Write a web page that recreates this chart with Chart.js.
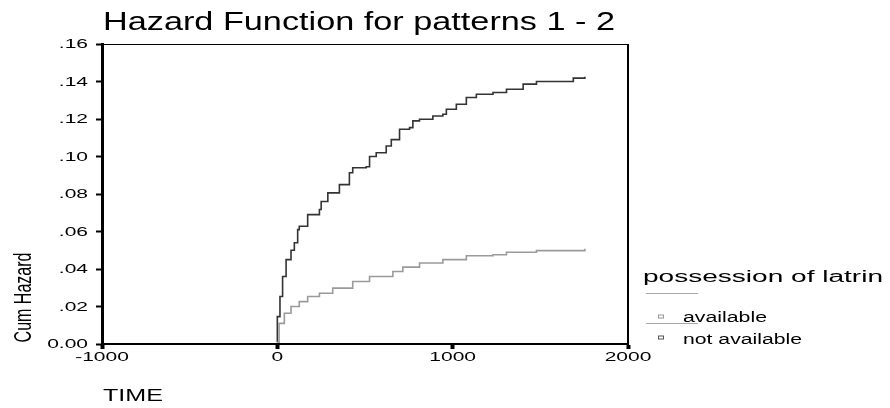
<html>
<head>
  <meta charset="UTF-8">
  <script src="https://cdn.jsdelivr.net/npm/chart.js@4/dist/chart.umd.min.js"></script>
  <style> body {padding: 0; margin: 0; background: #fff;} </style>
</head>
<body>

<canvas id="myChart" width="890" height="408"></canvas>

<script>

// cumulative hazard (step function)
var notAvailTime = [0, 0, 15, 30, 50, 78, 97, 116, 125, 173, 240, 250, 288, 354, 411, 430, 507, 526, 564, 621, 650, 697, 754, 773, 811, 887, 944, 964, 1021, 1078, 1135, 1230, 1307, 1402, 1478, 1688, 1754];
var notAvailHaz  = [0.001, 0.0146, 0.0253, 0.036, 0.045, 0.050, 0.054, 0.061, 0.0628, 0.069, 0.0717, 0.076, 0.0806, 0.085, 0.0913, 0.094, 0.0945, 0.100, 0.102, 0.1056, 0.109, 0.1145, 0.1154, 0.119, 0.1199, 0.1216, 0.1225, 0.1252, 0.1279, 0.1315, 0.1332, 0.1341, 0.1359, 0.1386, 0.140, 0.1418, 0.1425];

var availTime = [0, 10, 40, 78, 125, 173, 240, 316, 430, 526, 659, 716, 811, 944, 1078, 1230, 1307, 1478, 1754];
var availHaz  = [0.001, 0.011, 0.0164, 0.020, 0.0226, 0.0253, 0.0271, 0.0298, 0.0333, 0.036, 0.0387, 0.041, 0.0432, 0.045, 0.0471, 0.0476, 0.0489, 0.0498, 0.0508];

var xTicks = [-1000, 0, 1000, 2000];
var yTicks = [0, 0.02, 0.04, 0.06, 0.08, 0.10, 0.12, 0.14, 0.16];
var seriesNames = ['available', 'not available'];
var titleText = 'Hazard Function for patterns 1 - 2';
var legendTitle = 'possession of latrin';

function toPoints(xs, ys) {
  return xs.map(function (x, i) { return {x: x, y: ys[i]}; });
}

function yLabel(v) {
  if (Math.abs(v) < 1e-9) return '0.00';
  return v.toFixed(2).replace(/^0/, '');
}

// the original output is stretched sideways, so text is drawn wide
function wideText(ctx, text, x, y, size, sx, align) {
  ctx.font = size + 'px Arial';
  ctx.save();
  ctx.translate(x, y);
  ctx.scale(sx, 1);
  ctx.textAlign = align;
  ctx.textBaseline = 'alphabetic';
  ctx.fillText(text, 0, 0);
  ctx.restore();
}

function fitText(ctx, text, x, y, size, width) {
  ctx.font = size + 'px Arial';
  var w = ctx.measureText(text).width;
  wideText(ctx, text, x, y, size, width / w, 'left');
}

var textPlugin = {
  id: 'texts',
  afterDraw: function (chart) {
    var ctx = chart.ctx;
    var a = chart.chartArea;
    var xs = chart.scales.x, ys = chart.scales.y;
    ctx.save();
    // frame top / right
    ctx.strokeStyle = '#000';
    ctx.lineWidth = 1;
    ctx.beginPath();
    ctx.moveTo(a.left, a.top + 0.5);
    ctx.lineTo(a.right, a.top + 0.5);
    ctx.stroke();
    ctx.lineWidth = 2;
    ctx.beginPath();
    ctx.moveTo(a.right, a.top);
    ctx.lineTo(a.right, a.bottom);
    ctx.stroke();

    ctx.fillStyle = '#000';

    // tick labels
    xTicks.forEach(function (v) {
      wideText(ctx, String(v), xs.getPixelForValue(v), 361, 12, 1.75, 'center');
    });
    yTicks.forEach(function (v) {
      wideText(ctx, yLabel(v), 88, ys.getPixelForValue(v) + 4, 12, 1.75, 'right');
    });

    // title
    fitText(ctx, titleText, 103, 30, 25, 512);

    // axis titles
    fitText(ctx, 'TIME', 103, 401, 16.5, 60);

    ctx.save();
    ctx.translate(24, 297.5);
    ctx.rotate(-Math.PI / 2);
    ctx.scale(1, 1.55);
    ctx.font = '16px Arial';
    ctx.textAlign = 'center';
    ctx.textBaseline = 'middle';
    ctx.fillText('Cum Hazard', 0, 0, 91);
    ctx.restore();

    // legend
    fitText(ctx, legendTitle, 643, 282, 16, 240);
    var lines = [293.5, 323.5];
    var boxes = [316.5, 337.5];
    var bases = [321.5, 343.5];
    var widths = [84, 119];
    for (var i = 0; i < seriesNames.length; i++) {
      ctx.strokeStyle = '#a8a8a8';
      ctx.lineWidth = 1;
      ctx.beginPath();
      ctx.moveTo(646, lines[i]);
      ctx.lineTo(698, lines[i]);
      ctx.stroke();
      ctx.strokeStyle = i == 0 ? '#999' : '#555';
      ctx.strokeRect(658.5, boxes[i] - 1.5, 5, 3);
      fitText(ctx, seriesNames[i], 683, bases[i], 14, widths[i]);
    }
    ctx.restore();
  }
};

var ctx = document.getElementById('myChart').getContext('2d');

var myChart = new Chart(ctx, {
  type: 'line',
  data: {
    datasets: [{
      label: seriesNames[0],
      data: toPoints(availTime, availHaz),
      borderColor: '#9a9a9a',
      borderWidth: 1.6,
      stepped: true,
      pointRadius: 0,
      fill: false
    }, {
      label: seriesNames[1],
      data: toPoints(notAvailTime, notAvailHaz),
      borderColor: '#333',
      borderWidth: 1.6,
      stepped: true,
      pointRadius: 0,
      fill: false
    }]
  },
  options: {
    responsive: false,
    animation: false,
    layout: {padding: {left: 0, right: 262, top: 44, bottom: 0}},
    plugins: {legend: {display: false}, title: {display: false}, tooltip: {enabled: false}},
    scales: {
      x: {
        type: 'linear',
        min: -1000, max: 2000,
        afterBuildTicks: function (axis) {
          axis.ticks = xTicks.map(function (v) { return {value: v}; });
        },
        afterFit: function (axis) { axis.height = 64; },
        grid: {drawOnChartArea: false, tickLength: 5, tickWidth: 4, tickColor: '#000'},
        border: {display: true, width: 2, color: '#000'},
        ticks: {display: false}
      },
      y: {
        type: 'linear',
        min: 0, max: 0.16,
        afterBuildTicks: function (axis) {
          axis.ticks = yTicks.map(function (v) { return {value: v}; });
        },
        afterFit: function (axis) { axis.width = 102; },
        grid: {drawOnChartArea: false, tickLength: 6, tickWidth: 2, tickColor: '#000'},
        border: {display: true, width: 3, color: '#000'},
        ticks: {display: false}
      }
    }
  },
  plugins: [textPlugin]
});

</script>
</body>
</html>
